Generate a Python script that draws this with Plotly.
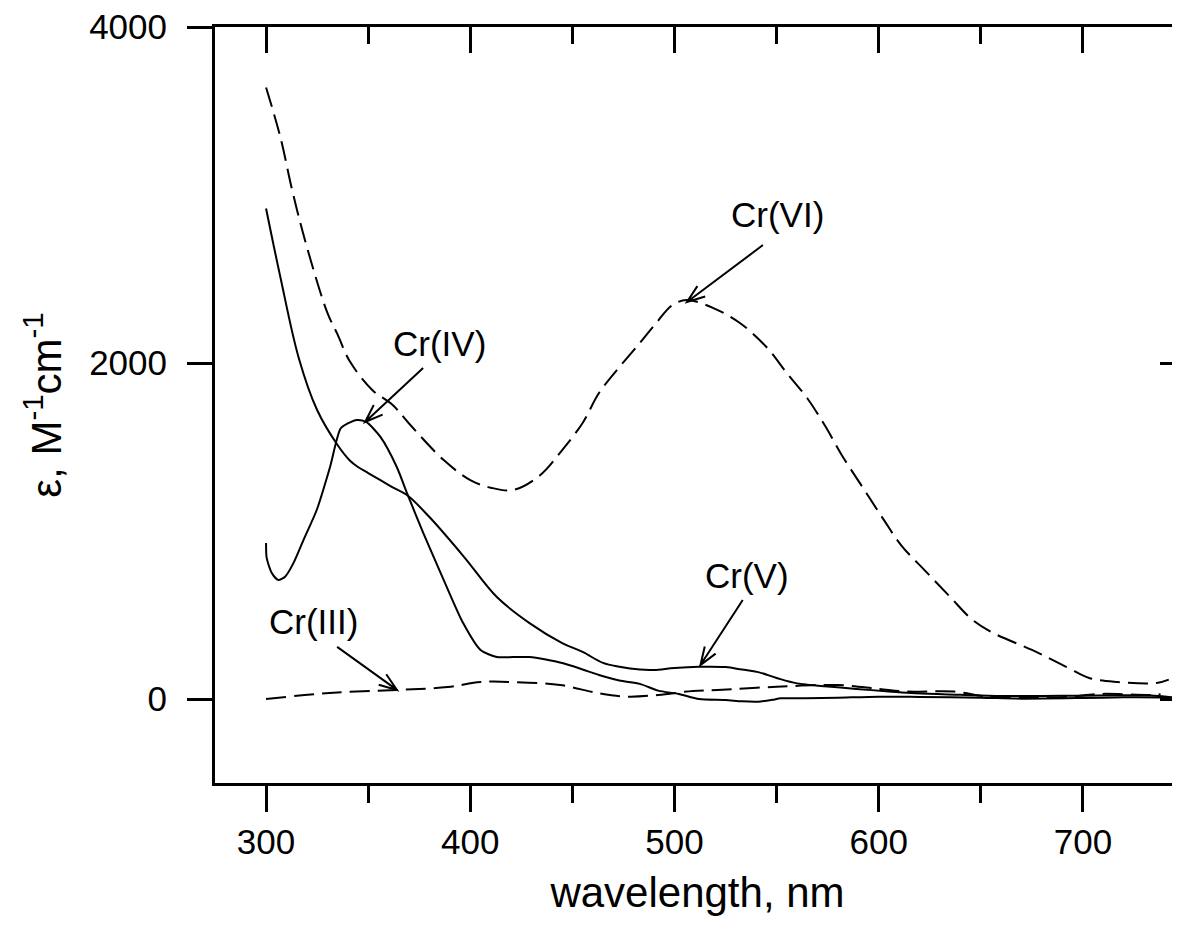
import math
import plotly.graph_objects as go

# ---------------- data ----------------
cr6_nm = [300, 307, 313, 320, 330, 335, 341, 352, 362, 370, 387, 400, 410, 421,
          434, 445, 455, 463, 473, 483, 491, 499, 506, 519, 532, 545, 555, 565,
          574, 582, 592, 602, 611, 623, 635, 646, 656, 675, 692, 703, 717, 736, 742]
cr6_eps = [3640, 3345, 3018, 2690, 2300, 2170, 2010, 1839, 1750, 1640, 1422, 1303, 1258, 1244,
           1330, 1482, 1643, 1821, 1976, 2119, 2238, 2345, 2375, 2327, 2238, 2095, 1940, 1790,
           1620, 1450, 1262, 1075, 915, 760, 607, 470, 393, 292, 190, 125, 101, 95, 115]

cr5_nm = [300, 307, 316, 325, 335, 341, 345, 350, 356, 362, 369, 380, 397, 413,
          429, 445, 455, 465, 473, 483, 490, 500, 512, 525, 533, 541, 550, 560,
          575, 589, 605, 618, 640, 660, 680, 700, 720, 735, 748]
cr5_eps = [2920, 2512, 2030, 1720, 1512, 1420, 1381, 1345, 1303, 1260, 1214, 1083, 845, 607,
           452, 333, 280, 215, 192, 175, 173, 185, 192, 190, 175, 160, 125, 93,
           75, 60, 45, 34, 25, 18, 18, 20, 22, 20, 5]

cr4_nm = [300, 300.3, 302.8, 306, 309.3, 313.4, 318.3, 324.8, 331.3, 336.5, 340, 344.5, 349, 356,
          364, 369, 377, 387, 396.5, 405, 413, 421, 429, 437, 445, 454, 463, 473, 483, 492,
          502, 512, 525, 533, 541, 548, 552, 564, 580, 600, 620, 650, 670, 700, 720, 740, 748]
cr4_eps = [928, 840, 750, 708, 728, 809, 946, 1125, 1380, 1610, 1640, 1661, 1649, 1560,
           1381, 1226, 988, 708, 452, 292, 250, 250, 250, 235, 214, 180, 143, 110, 90, 50,
           30, 0, -6, -14, -16, -5, 4, 4, 8, 14, 12, 8, 2, 6, 10, 8, 0]

cr3_nm = [300, 331, 364, 389, 405, 421, 444, 463, 477, 492, 509, 521, 550, 580,
          600, 614, 637, 653, 670, 692, 708, 733, 738]
cr3_eps = [0, 36, 54, 71, 101, 101, 83, 34, 14, 24, 48, 54, 73, 83,
           60, 44, 44, 14, 8, 12, 30, 24, 28]

x_ticks = [300, 400, 500, 600, 700]
x_minor = [350, 450, 550, 650]
y_ticks = [0, 2000, 4000]

labels = ["Cr(VI)", "Cr(IV)", "Cr(V)", "Cr(III)"]
label_x = [550.2, 384.7, 535.3, 323.0]
label_y = [2881, 2119, 738, 464]
tail_x = [543.3, 376.9, 533.4, 334.8]
tail_y = [2702, 1970, 589, 310]
head_x = [506.1, 348.5, 512.7, 364.1]
head_y = [2363, 1649, 202, 54]

# ---------------- figure ----------------
FONT = "Liberation Sans, Arial, Helvetica, sans-serif"
X_RANGE = [275, 747.5]
Y_RANGE = [-500, 4000]
W, H = 1172, 934
M = dict(l=207, r=0, t=19, b=159)
PLOT_W = W - M["l"] - M["r"]
PLOT_H = H - M["t"] - M["b"]
SX = PLOT_W / (X_RANGE[1] - X_RANGE[0])   # px per nm
SY = PLOT_H / (Y_RANGE[1] - Y_RANGE[0])   # px per unit

fig = go.Figure()


def add_curve(nm, eps, dash, smooth):
    fig.add_trace(go.Scatter(
        x=nm, y=eps, mode="lines",
        line=dict(color="black", width=2, dash=dash, shape="spline", smoothing=smooth),
        showlegend=False, hoverinfo="skip"))


add_curve(cr6_nm, cr6_eps, "20px,8px", 1.0)
add_curve(cr5_nm, cr5_eps, "solid", 1.0)
add_curve(cr4_nm, cr4_eps, "solid", 0.7)
add_curve(cr3_nm, cr3_eps, "20px,8px", 1.0)

# dummy trace so that the mirror axes (top / right) are rendered
fig.add_trace(go.Scatter(x=[None], y=[None], xaxis="x2", yaxis="y2",
                         showlegend=False, hoverinfo="skip"))

WING = 19.0
ANG = math.radians(20)
for t, lx, ly, tx, ty, hx, hy in zip(labels, label_x, label_y, tail_x, tail_y, head_x, head_y):
    fig.add_annotation(x=lx, y=ly, xref="x", yref="y", text=t, showarrow=False,
                       font=dict(family=FONT, size=35, color="black"))
    dx, dy = (tx - hx) * SX, (ty - hy) * SY
    L = math.hypot(dx, dy)
    ux, uy = dx / L, dy / L
    wings = []
    for s in (1, -1):
        c, sn = math.cos(s * ANG), math.sin(s * ANG)
        wx, wy = ux * c - uy * sn, ux * sn + uy * c
        wings.append((hx + WING * wx / SX, hy + WING * wy / SY))
    path = (f"M{tx},{ty} L{hx},{hy} "
            f"M{wings[0][0]},{wings[0][1]} L{hx},{hy} L{wings[1][0]},{wings[1][1]}")
    fig.add_shape(type="path", path=path, xref="x", yref="y",
                  line=dict(color="black", width=2), layer="above")

tickfont = dict(family=FONT, size=35, color="black")

fig.update_layout(
    width=W, height=H,
    margin=dict(**M, pad=0),
    paper_bgcolor="white", plot_bgcolor="white",
    showlegend=False,
    xaxis=dict(
        range=X_RANGE, tickmode="array", tickvals=x_ticks,
        ticks="outside", ticklen=26, tickwidth=2.5, tickcolor="black",
        minor=dict(tickvals=x_minor, ticks="outside", ticklen=17,
                   tickwidth=2.5, tickcolor="black", showgrid=False),
        showline=True, linewidth=3, linecolor="black",
        showgrid=False, zeroline=False, tickfont=tickfont,
        ticklabeloverflow="allow",
        title=dict(text="wavelength, nm", font=dict(family=FONT, size=42, color="black"),
                   standoff=18),
    ),
    xaxis2=dict(
        range=X_RANGE, overlaying="x", side="top", anchor="y",
        tickmode="array", tickvals=x_ticks,
        ticks="inside", ticklen=26, tickwidth=2.5, tickcolor="black",
        minor=dict(tickvals=x_minor, ticks="inside", ticklen=17,
                   tickwidth=2.5, tickcolor="black", showgrid=False),
        showline=True, linewidth=3, linecolor="black",
        showticklabels=False, showgrid=False, zeroline=False,
    ),
    yaxis=dict(
        range=Y_RANGE, tickmode="array", tickvals=y_ticks,
        ticks="outside", ticklen=25, tickwidth=2.5, tickcolor="black",
        ticklabelstandoff=13, ticklabeloverflow="allow",
        showline=True, linewidth=3, linecolor="black",
        showgrid=False, zeroline=False, tickfont=tickfont,
        title=dict(text="ε, M<sup>-1</sup>cm<sup>-1</sup>",
                   font=dict(family=FONT, size=42, color="black"), standoff=15),
    ),
    yaxis2=dict(
        range=Y_RANGE, overlaying="y", side="right", anchor="x",
        tickmode="array", tickvals=y_ticks,
        ticks="inside", ticklen=20, tickwidth=2.5, tickcolor="black",
        showline=False, showticklabels=False, showgrid=False, zeroline=False,
    ),
)

fig.write_html("out.html")
